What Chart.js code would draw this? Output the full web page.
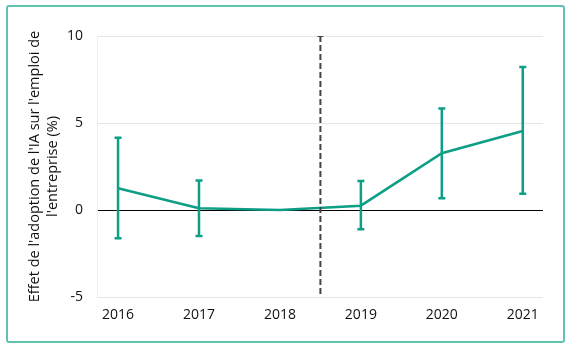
<!DOCTYPE html>
<html>
<head>
<meta charset="utf-8">
<script src="https://cdn.jsdelivr.net/npm/chart.js@4"></script>
<style>
  html, body { margin: 0; padding: 0; background: #fff; }
  #wrap { position: relative; width: 574px; height: 350px; }
  #frame { position: absolute; left: 6px; top: 5px; width: 555px; height: 334px;
           border: 2px solid #62c2b2; border-radius: 3px; }
  canvas { position: absolute; left: 0; top: 0; }
</style>
</head>
<body>
<div id="wrap">
  <div id="frame"></div>
  <canvas id="chart" width="574" height="350"></canvas>
</div>
<script>
const years = [2016, 2017, 2018, 2019, 2020, 2021];
const effect = [1.25, 0.1, 0, 0.25, 3.26, 4.54];
const lower = [-1.63, -1.5, null, -1.1, 0.67, 0.94];
const upper = [4.15, 1.7, null, 1.67, 5.84, 8.22];
const breakYear = 2018.5;
const yTicks = [-5, 0, 5, 10];

const teal = '#0d9e86';

const errorBars = {
    id: 'errorBars',
    afterDatasetsDraw(chart) {
        const x = chart.scales.x, y = chart.scales.y;
        const ctx = chart.ctx;
        ctx.save();
        ctx.strokeStyle = teal;
        ctx.lineWidth = 2.5;
        years.forEach((yr, i) => {
            if (lower[i] === null) return;
            const px = x.getPixelForValue(yr);
            const top = y.getPixelForValue(upper[i]);
            const bot = y.getPixelForValue(lower[i]);
            ctx.beginPath();
            ctx.moveTo(px, top); ctx.lineTo(px, bot);
            ctx.moveTo(px - 3.5, top); ctx.lineTo(px + 3.5, top);
            ctx.moveTo(px - 3.5, bot); ctx.lineTo(px + 3.5, bot);
            ctx.stroke();
        });
        ctx.restore();
    }
};

const ctx = document.getElementById('chart').getContext('2d');
new Chart(ctx, {
    type: 'scatter',
    data: {
        datasets: [
            {
                data: [{x: breakYear, y: 10}, {x: breakYear, y: -5}],
                showLine: true,
                borderColor: '#444',
                borderWidth: 2,
                borderDash: [6, 3],
                pointStyle: 'line',
                pointRadius: [3, 0],
                pointBorderColor: '#444',
                pointBorderWidth: 2
            },
            {
                data: years.map((yr, i) => ({x: yr, y: effect[i]})),
                showLine: true,
                borderColor: teal,
                borderWidth: 2.5,
                pointRadius: 0
            }
        ]
    },
    options: {
        responsive: false,
        animation: false,
        layout: { padding: { top: 36, right: 31, left: 0, bottom: 0 } },
        plugins: { legend: { display: false }, tooltip: { enabled: false } },
        scales: {
            x: {
                type: 'linear',
                min: 2015.74,
                max: 2021.25,
                afterBuildTicks: s => { s.ticks = years.map(v => ({value: v})); },
                afterFit: s => { s.height = 53; },
                grid: { display: false, drawTicks: false },
                border: { display: false },
                ticks: {
                    padding: 10,
                    color: '#111',
                    font: { family: 'Open Sans', size: 14 },
                    callback: v => String(v)
                }
            },
            y: {
                min: -5,
                max: 10,
                afterBuildTicks: s => { s.ticks = yTicks.map(v => ({value: v})); },
                afterFit: s => { s.width = 97; },
                grid: {
                    drawTicks: false,
                    color: c => c.tick && c.tick.value === 0 ? '#000' : '#e6e6e6',
                    lineWidth: 1
                },
                border: { display: true, color: '#eeeeee' },
                ticks: {
                    padding: 14,
                    color: '#111',
                    font: { family: 'Open Sans', size: 14 }
                },
                title: {
                    display: true,
                    text: ["Effet de l'adoption de l'IA sur l'emploi de", "l'entreprise (%)"],
                    color: '#111',
                    font: { family: 'Open Sans', size: 14.5, lineHeight: 1.25 },
                    padding: { top: 26, bottom: 0 }
                }
            }
        }
    },
    plugins: [errorBars]
});
</script>
</body>
</html>
